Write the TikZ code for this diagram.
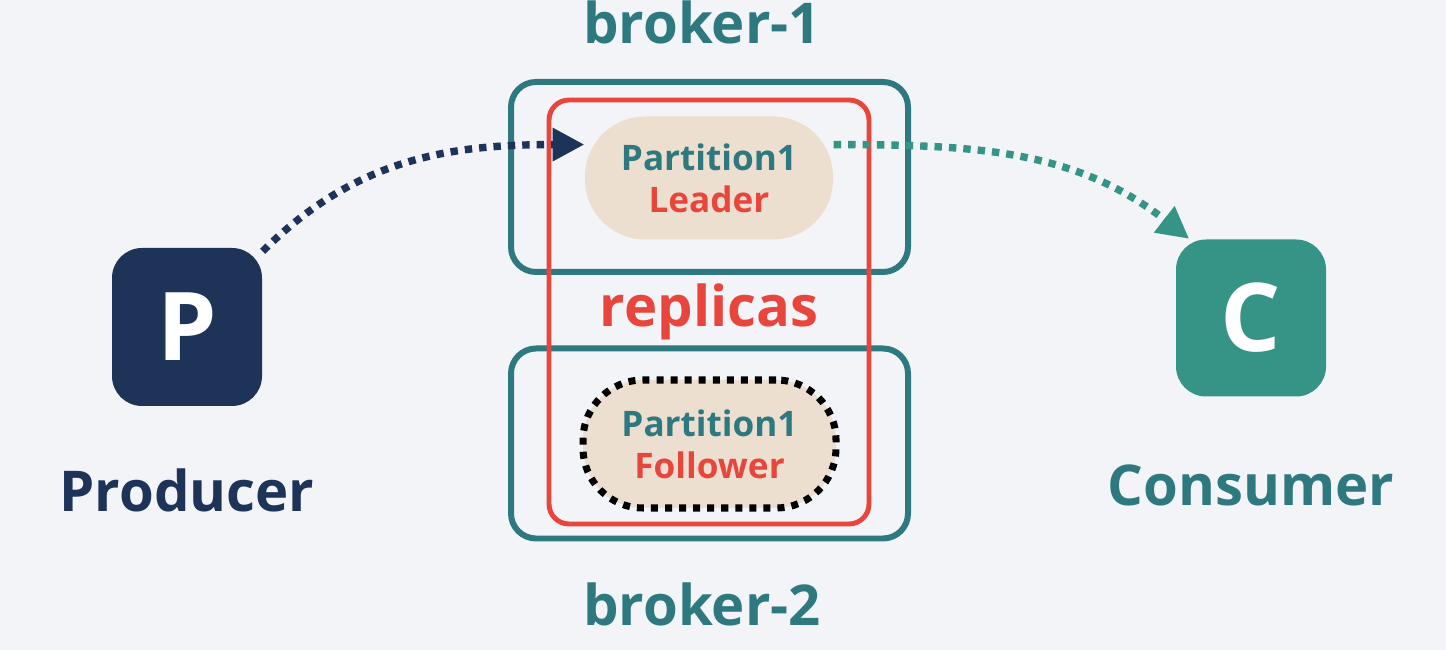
\documentclass[tikz,border=0pt]{standalone}
\usepackage{fontspec}
\setmainfont{Open Sans}
\usetikzlibrary{arrows.meta}
\definecolor{bgc}{HTML}{F2F4F7}
\definecolor{navy}{HTML}{1E3358}
\definecolor{tealc}{HTML}{2E7880}
\definecolor{greenc}{HTML}{359486}
\definecolor{redc}{HTML}{E8453C}
\definecolor{beige}{HTML}{EDDFCF}
\begin{document}
\begin{tikzpicture}
  [x=0.1mm,y=0.1mm,
  every node/.style={font=\bfseries},
  big/.style={font=\fontsize{16}{19}\selectfont\bfseries},
  icon/.style={minimum width=15mm,minimum height=15.8mm,rounded corners=3mm,text=white,font=\fontsize{27}{31}\selectfont\bfseries},
  broker/.style={draw=tealc,line width=1.7pt,minimum width=39.7mm,minimum height=19mm,rounded corners=2.5mm},
  part/.style={fill=beige,minimum width=24.8mm,minimum height=12.3mm,rounded corners=6mm,align=center,font=\fontsize{10}{12}\selectfont\bfseries},
  flow/.style={line width=2.1pt,dash pattern=on 2.1pt off 2pt,-{Triangle[length=9pt,width=9pt]}}]
  \useasboundingbox[fill=bgc] (0,0) rectangle (1446,650);

  \node[broker] (B1) at (709.5,473) {};
  \node[broker] (B2) at (709.5,206.5) {};
  \node[draw=redc,line width=1.4pt,minimum width=32mm,minimum height=42.4mm,rounded corners=2mm] (R) at (709,338) {};
  \node[big,text=redc] at (R.center) {replicas};

  \node[part] (lead) at (709,472) {\textcolor{tealc}{Partition1}\\\textcolor{redc}{Leader}};
  \node[part,draw=black,line width=2pt,dash pattern=on 2pt off 2pt,minimum width=25.3mm,minimum height=12.8mm] (foll) at (709.5,206) {\textcolor{tealc}{Partition1}\\\textcolor{redc}{Follower}};

  \node[big,text=tealc] at (702,628) {broker-1};
  \node[big,text=tealc] at (702,46) {broker-2};

  \node[icon,fill=navy] (P) at (187,323) {P};
  \node[big,text=navy] at (187,160) {Producer};
  \node[icon,fill=greenc,minimum height=15.7mm] (C) at (1251,332) {C};
  \node[big,text=tealc] at (1251,165) {Consumer};

  \draw[flow,draw=navy] (P.45) to[out=45,in=180] (lead.165);
  \draw[flow,draw=greenc] (lead.15) to[out=0,in=142] (C.128);
\end{tikzpicture}
\end{document}
